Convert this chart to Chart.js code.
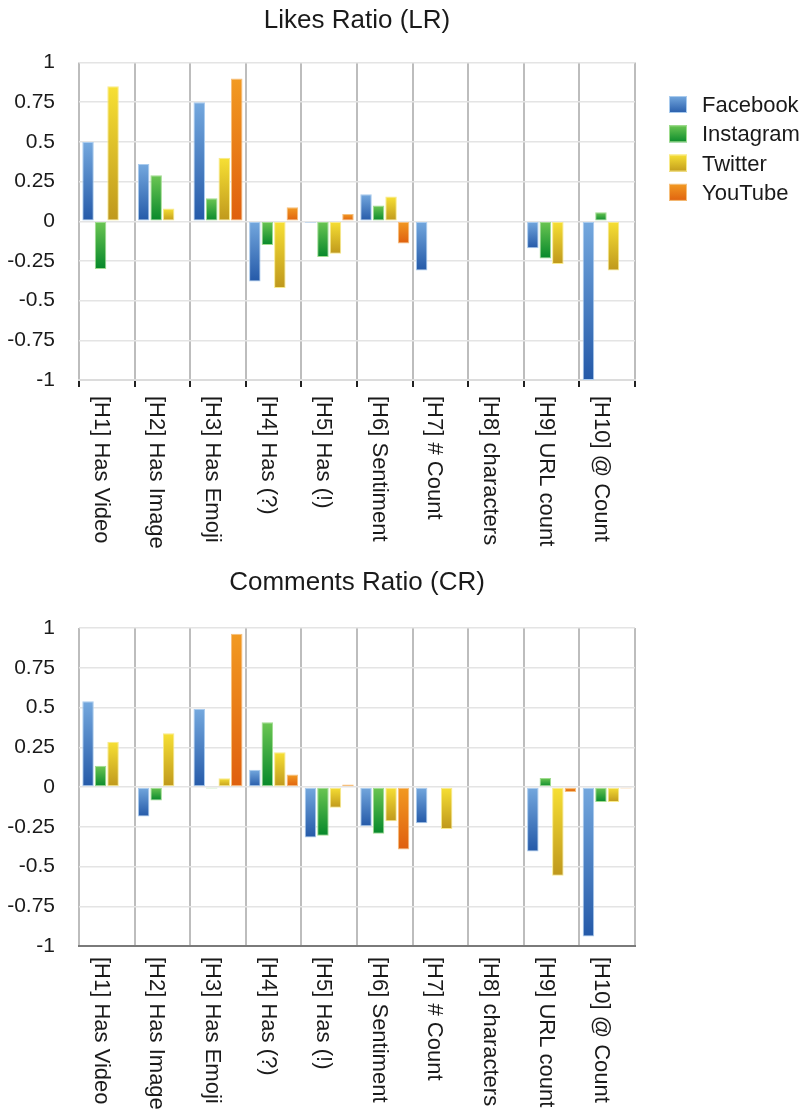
<!DOCTYPE html>
<html>
<head>
<meta charset="utf-8">
<script src="https://cdn.jsdelivr.net/npm/chart.js@4.4.1/dist/chart.umd.min.js"></script>
<style>
  body { margin: 0; background: #fff; }
  canvas { display: block; }
</style>
</head>
<body>
<canvas id="likesRatio" width="805" height="565"></canvas>
<canvas id="commentsRatio" width="805" height="548"></canvas>
<script>
var categories = ['[H1] Has Video', '[H2] Has Image', '[H3] Has Emoji', '[H4] Has (?)', '[H5] Has (!)',
                  '[H6] Sentiment', '[H7] # Count', '[H8] characters', '[H9] URL count', '[H10] @ Count']
var seriesNames = ['Facebook', 'Instagram', 'Twitter', 'YouTube']

// Likes Ratio (LR)
var lrFacebook  = [0.5, 0.36, 0.75, -0.38, -0.01, 0.17, -0.31, null, -0.17, -1.0]
var lrInstagram = [-0.3, 0.29, 0.145, -0.15, -0.225, 0.1, null, null, -0.235, 0.057]
var lrTwitter   = [0.85, 0.08, 0.4, -0.42, -0.205, 0.156, null, null, -0.27, -0.31]
var lrYouTube   = [null, null, 0.9, 0.088, 0.046, -0.14, null, null, null, null]

// Comments Ratio (CR)
var crFacebook  = [0.54, -0.186, 0.49, 0.108, -0.317, -0.247, -0.228, null, -0.406, -0.94]
var crInstagram = [0.133, -0.085, -0.01, 0.408, -0.306, -0.294, null, null, 0.057, -0.095]
var crTwitter   = [0.285, 0.338, 0.055, 0.218, -0.131, -0.216, -0.264, null, -0.558, -0.095]
var crYouTube   = [null, null, 0.964, 0.078, 0.015, -0.393, null, null, -0.032, -0.01]

var yMin = -1, yMax = 1, yStep = 0.25

// light (top) / dark (bottom) / outline per series
var colLight  = ['#74a8de', '#6cc653', '#f7e034', '#f29a22']
var colDark   = ['#2459a8', '#06882a', '#bf981c', '#df5f0e']
var colBorder = ['#a9cbee', '#9fdc8f', '#f8ea8a', '#f6bf7c']

var FONT = '"Liberation Sans", Arial, Helvetica, sans-serif'

function barFill(i) {
    return function (ctx) {
        var chart = ctx.chart
        if (!chart.chartArea || ctx.raw == null) return colDark[i]
        var y = chart.scales.y
        var a = y.getPixelForValue(ctx.raw), b = y.getPixelForValue(0)
        var top = Math.min(a, b), bot = Math.max(a, b)
        if (bot - top < 1) return colLight[i]
        var g = chart.ctx.createLinearGradient(0, top, 0, bot)
        g.addColorStop(0, colLight[i])
        g.addColorStop(1, colDark[i])
        return g
    }
}

// x labels, turned a quarter clockwise (read top to bottom)
var xLabelPlugin = {
    id: 'xLabels',
    afterDraw: function (chart, args, opts) {
        var c = chart.ctx, xs = chart.scales.x
        c.save()
        c.font = '22px ' + FONT
        c.fillStyle = '#1a1a1a'
        c.textAlign = 'left'
        c.textBaseline = 'middle'
        chart.data.labels.forEach(function (lab, i) {
            c.save()
            c.translate(xs.getPixelForValue(i) - 6, chart.chartArea.bottom + opts.gap)
            c.rotate(Math.PI / 2)
            c.fillText(lab, 0, 0)
            c.restore()
        })
        c.restore()
    }
}

var sideLegendPlugin = {
    id: 'sideLegend',
    afterDraw: function (chart, args, opts) {
        if (!opts.show) return
        var c = chart.ctx
        c.save()
        c.font = '22px ' + FONT
        c.textBaseline = 'middle'
        chart.data.datasets.forEach(function (ds, i) {
            var cy = 105 + i * 29.3
            var g = c.createLinearGradient(0, cy - 9, 0, cy + 9)
            g.addColorStop(0, colLight[i])
            g.addColorStop(1, colDark[i])
            c.fillStyle = g
            c.fillRect(669, cy - 9, 18, 17)
            c.strokeStyle = colBorder[i]
            c.lineWidth = 1
            c.strokeRect(669.5, cy - 8.5, 17, 16)
            c.fillStyle = '#1a1a1a'
            c.fillText(ds.label, 702, cy + 1)
        })
        c.restore()
    }
}

function makeChart(id, title, values, o) {
    return new Chart(document.getElementById(id).getContext('2d'), {
        type: 'bar',
        data: {
            labels: categories,
            datasets: values.map(function (v, i) {
                return {
                    label: seriesNames[i],
                    data: v,
                    backgroundColor: barFill(i),
                    borderColor: colBorder[i],
                    borderWidth: 1,
                    borderSkipped: false,
                    categoryPercentage: 0.9,
                    barPercentage: 0.92
                }
            })
        },
        plugins: [xLabelPlugin, sideLegendPlugin],
        options: {
            responsive: false,
            animation: false,
            layout: { padding: { left: 0, right: 170, top: 0, bottom: 0 } },
            plugins: {
                legend: { display: false },
                tooltip: { enabled: false },
                title: {
                    display: true,
                    text: title,
                    fullSize: false,
                    color: '#1a1a1a',
                    font: { family: FONT, size: 26, weight: 'normal' },
                    padding: { top: o.titleTop, bottom: o.titleBottom }
                },
                xLabels: { gap: o.labelGap },
                sideLegend: { show: o.legend }
            },
            scales: {
                x: {
                    ticks: { display: false },
                    grid: {
                        offset: true,
                        color: '#bdbdbd',
                        lineWidth: 2,
                        drawTicks: o.ticks,
                        tickLength: 7,
                        tickColor: '#222',
                        tickWidth: 2
                    },
                    border: { display: true, color: o.axisColor, width: 2 },
                    afterFit: function (s) { s.height = o.xHeight }
                },
                y: {
                    min: yMin,
                    max: yMax,
                    ticks: {
                        stepSize: yStep,
                        padding: 24,
                        color: '#1a1a1a',
                        font: { family: FONT, size: 21 },
                        callback: function (v) { return String(+v.toFixed(2)) }
                    },
                    grid: { color: '#e4e4e4', lineWidth: 1.5, drawTicks: false },
                    border: { display: false },
                    afterFit: function (s) { s.width = 79 }
                }
            }
        }
    })
}

var likesChart = makeChart('likesRatio', 'Likes Ratio (LR)',
    [lrFacebook, lrInstagram, lrTwitter, lrYouTube],
    { titleTop: 5, titleBottom: 26.3, xHeight: 185, labelGap: 16, ticks: true, axisColor: '#dcdcdc', legend: true })

var commentsChart = makeChart('commentsRatio', 'Comments Ratio (CR)',
    [crFacebook, crInstagram, crTwitter, crYouTube],
    { titleTop: 2, titleBottom: 29.8, xHeight: 167, labelGap: 11, ticks: false, axisColor: '#7a7a7a', legend: false })
</script>
</body>
</html>
